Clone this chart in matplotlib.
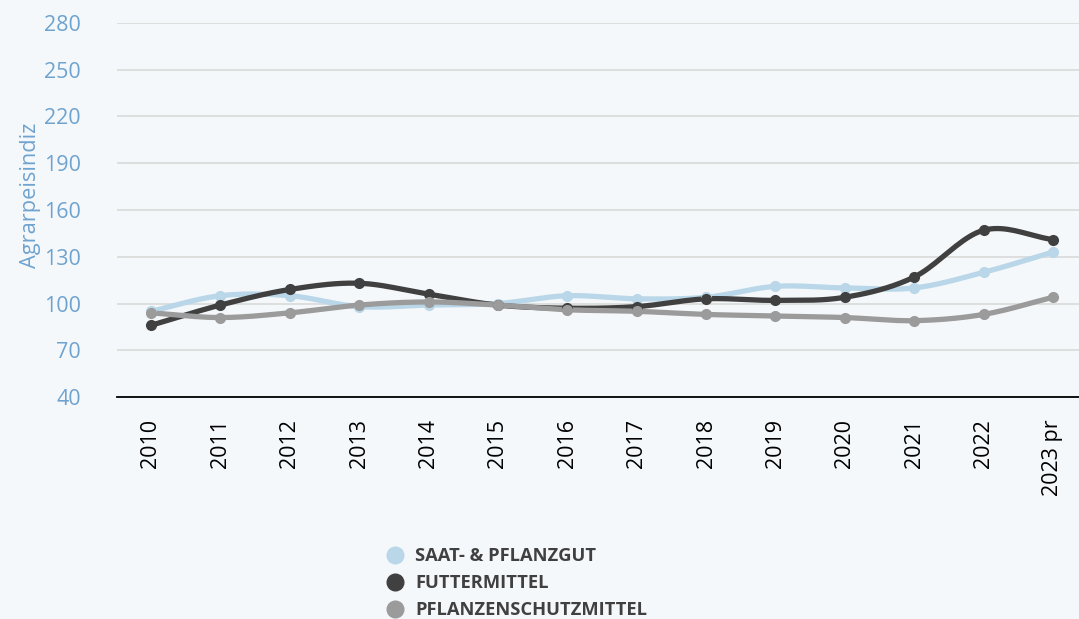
"""
Agrarpreisindex: Saat- & Pflanzgut, Futtermittel, Pflanzenschutzmittel
smoothed line chart, 2010 - 2023 pr
"""

import numpy as np
import matplotlib
matplotlib.use("Agg")
import matplotlib.pyplot as plt
from matplotlib.lines import Line2D

#####################################
# Data
#####################################

years = ["2010", "2011", "2012", "2013", "2014", "2015", "2016",
         "2017", "2018", "2019", "2020", "2021", "2022", "2023 pr"]

saat_pflanzgut = [95, 105, 105, 98, 99, 100, 105, 103, 104, 111, 110, 110, 120, 133]
futtermittel = [86, 99, 109, 113, 106, 99, 97, 98, 103, 102, 104, 117, 147, 141]
pflanzenschutz = [94, 91, 94, 99, 101, 99, 96, 95, 93, 92, 91, 89, 93, 104]

series_names = ["SAAT- & PFLANZGUT", "FUTTERMITTEL", "PFLANZENSCHUTZMITTEL"]
series_colors = ["#b9d7e8", "#404040", "#9b9b9b"]

y_ticks = [40, 70, 100, 130, 160, 190, 220, 250, 280]

#####################################
# Style
#####################################

BG = "#f5f8fb"
TICK_BLUE = "#6fa3cf"
plt.rcParams["font.family"] = ["Open Sans", "DejaVu Sans"]


def smooth(xs, ys, steps=20):
    """Catmull-Rom curve through the points (just for drawing)."""
    xs = np.asarray(xs, float)
    ys = np.asarray(ys, float)
    px = np.concatenate([[2 * xs[0] - xs[1]], xs, [2 * xs[-1] - xs[-2]]])
    py = np.concatenate([[2 * ys[0] - ys[1]], ys, [2 * ys[-1] - ys[-2]]])
    out_x, out_y = [], []
    t = np.linspace(0, 1, steps, endpoint=False)
    for i in range(1, len(px) - 2):
        for arr, out in ((px, out_x), (py, out_y)):
            p0, p1, p2, p3 = arr[i - 1], arr[i], arr[i + 1], arr[i + 2]
            out.extend(0.5 * ((2 * p1) + (-p0 + p2) * t
                              + (2 * p0 - 5 * p1 + 4 * p2 - p3) * t ** 2
                              + (-p0 + 3 * p1 - 3 * p2 + p3) * t ** 3))
    out_x.append(xs[-1])
    out_y.append(ys[-1])
    return out_x, out_y


#####################################
# Plot
#####################################

fig = plt.figure(figsize=(10.79, 6.19), dpi=100, facecolor=BG)
ax = fig.add_axes([0.1084, 0.3586, 0.8916, 0.6043], facecolor=BG)

x = np.arange(len(years))
for vals, name, col in zip([saat_pflanzgut, futtermittel, pflanzenschutz],
                           series_names, series_colors):
    sx, sy = smooth(x, vals)
    ax.plot(sx, sy, color=col, lw=3.8, solid_capstyle="round", zorder=3)
    ax.plot(x, vals, "o", color=col, ms=7, zorder=4)

ax.set_ylim(40, 280)
ax.set_xlim(-0.49, 13.375)
ax.set_yticks(y_ticks)
ax.set_xticks(x)
ax.set_xticklabels(years, rotation=90, fontsize=15.5, color="black")
ax.tick_params(axis="y", labelsize=15.5, labelcolor=TICK_BLUE, length=0, pad=26)
ax.tick_params(axis="x", length=0, pad=16)

ax.grid(axis="y", color="#d9d9d9", lw=1.2, zorder=0)
for s in ["top", "right", "left"]:
    ax.spines[s].set_visible(False)
ax.spines["bottom"].set_color("black")
ax.spines["bottom"].set_linewidth(1.3)
ax.spines["bottom"].set_zorder(5)

ax.set_ylabel("Agrarpeisindiz", fontsize=15.7, color=TICK_BLUE)
ax.yaxis.set_label_coords(-0.079, 0.54)

handles = [Line2D([], [], marker="o", ls="none", ms=12, color=c,
                  label=n) for n, c in zip(series_names, series_colors)]
leg = fig.legend(handles=handles, loc="upper left",
                 bbox_to_anchor=(0.351, 0.128), frameon=False,
                 handletextpad=0.59, labelspacing=0.5, handlelength=1.0,
                 prop={"weight": "bold", "size": 13.2}, borderaxespad=0)
for t in leg.get_texts():
    t.set_color("#404040")

fig.savefig("out.png", dpi=100, facecolor=BG)
